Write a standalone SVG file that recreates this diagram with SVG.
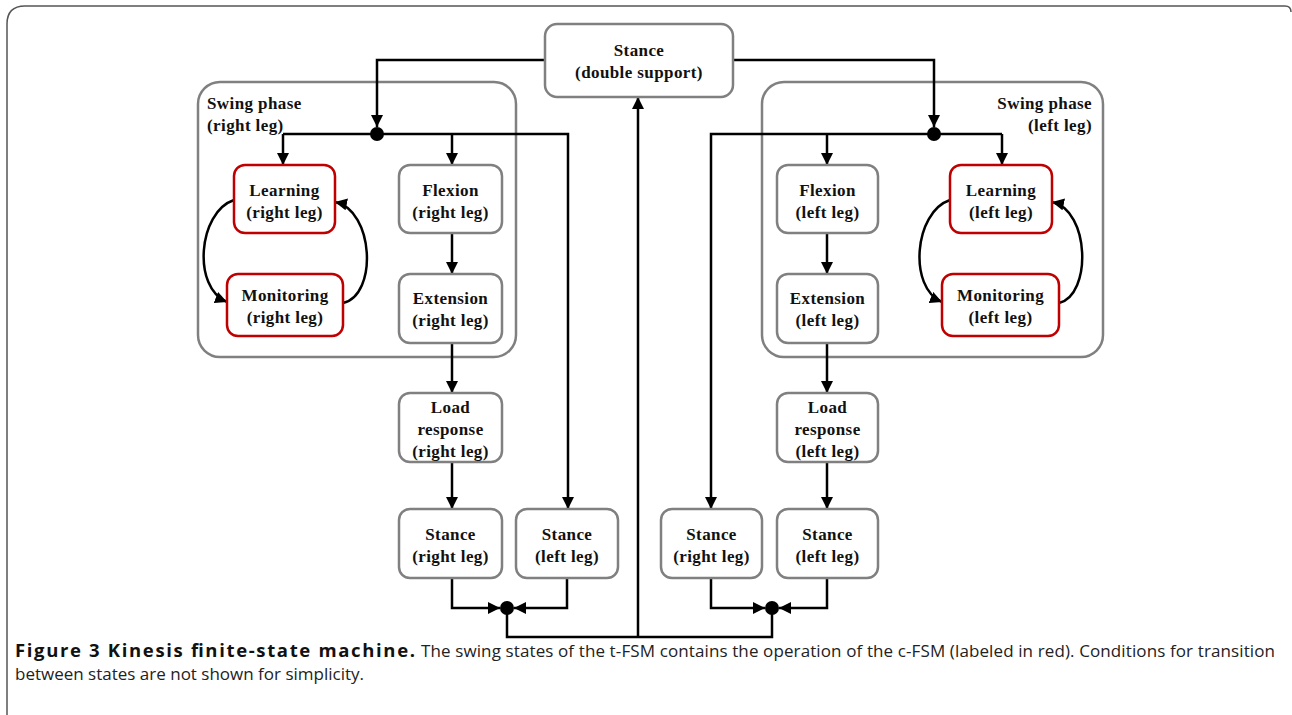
<svg xmlns="http://www.w3.org/2000/svg" width="1292" height="715" viewBox="0 0 1292 715">
<defs>
<style>
.frame{fill:none;stroke:#555;stroke-width:1.5}
.box{fill:#fff;stroke:#808080;stroke-width:2.5}
.red{fill:#fff;stroke:#c00000;stroke-width:2.5}
.group{fill:none;stroke:#808080;stroke-width:2.5}
.lbl{font-family:"Liberation Serif","Times New Roman",serif;font-weight:bold;font-size:17px;letter-spacing:0.4px;fill:#111;text-anchor:middle}
.glbl{font-family:"Liberation Serif","Times New Roman",serif;font-weight:bold;font-size:17px;letter-spacing:0.4px;fill:#111}
.cn{fill:none;stroke:#000;stroke-width:2.5}
.arr{marker-end:url(#ah)}
.dot{fill:#000}
.cap{font-family:"Open Sans","Noto Sans",sans-serif;font-size:17px;fill:#222}
.capb{font-family:"Open Sans","Noto Sans",sans-serif;font-size:18.5px;font-weight:bold;fill:#111}
</style>
<marker id="ah" markerUnits="userSpaceOnUse" markerWidth="12" markerHeight="12" refX="12" refY="6" orient="auto" viewBox="0 0 12 12">
<path d="M0,0 L12,6 L0,12 z" fill="#000"/>
</marker>
</defs>
<rect width="1292" height="715" fill="#fff"/>
<path class="frame" d="M7,715 V24 Q7,6 25,6 H1285 Q1291,6 1291,12"/>

<g id="swing-right-group">
<rect class="group" x="198" y="82" width="318" height="275" rx="22"/>
<text class="glbl" x="207" y="109">Swing phase</text>
<text class="glbl" x="207" y="131">(right leg)</text>
</g>
<g id="swing-left-group">
<rect class="group" x="762" y="82" width="341" height="275" rx="22"/>
<text class="glbl" x="1092" y="109" text-anchor="end">Swing phase</text>
<text class="glbl" x="1092" y="131" text-anchor="end">(left leg)</text>
</g>

<g id="connectors">
<path class="cn arr" d="M545,60 H377 V127"/>
<path class="cn arr" d="M283,134 V165"/>
<path class="cn arr" d="M452,134 V165"/>
<path class="cn arr" d="M283,134 H568 V509"/>
<path class="cn arr" d="M452,233 V274"/>
<path class="cn arr" d="M452,343 V393"/>
<path class="cn arr" d="M452,462 V509"/>
<path class="cn arr" d="M452,578 V608 H500"/>
<path class="cn arr" d="M567,578 V608 H514"/>
<path class="cn" d="M507,608 V637 H772 V608"/>
<path class="cn arr" d="M638,637 V97"/>
<path class="cn arr" d="M733,60 H934 V127"/>
<path class="cn arr" d="M1002,134 V165"/>
<path class="cn arr" d="M827,134 V165"/>
<path class="cn arr" d="M1002,134 H711 V509"/>
<path class="cn arr" d="M827,233 V274"/>
<path class="cn arr" d="M827,343 V393"/>
<path class="cn arr" d="M827,462 V509"/>
<path class="cn arr" d="M711,578 V608 H765"/>
<path class="cn arr" d="M827,578 V608 H779"/>
<path class="cn arr" d="M234,200 C198,212 192,288 227,302"/>
<path class="cn arr" d="M343,303 C378,295 374,210 335,202"/>
<path class="cn arr" d="M950,200 C914,212 908,288 942,302"/>
<path class="cn arr" d="M1059,303 C1092,295 1090,210 1052,202"/>
<circle class="dot" cx="377" cy="134" r="7"/>
<circle class="dot" cx="934" cy="134" r="7"/>
<circle class="dot" cx="507" cy="608" r="7"/>
<circle class="dot" cx="772" cy="608" r="7"/>
</g>

<g id="stance-double">
<rect class="box" x="545" y="24" width="188" height="73" rx="12"/>
<text class="lbl" x="639" y="56">Stance</text>
<text class="lbl" x="639" y="78">(double support)</text>
</g>

<g id="learning-right">
<rect class="red" x="234" y="165" width="101" height="68" rx="11"/>
<text class="lbl" x="284.5" y="196">Learning</text>
<text class="lbl" x="284.5" y="218">(right leg)</text>
</g>
<g id="monitoring-right">
<rect class="red" x="227" y="274" width="116" height="62" rx="11"/>
<text class="lbl" x="285" y="301">Monitoring</text>
<text class="lbl" x="285" y="323">(right leg)</text>
</g>
<g id="flexion-right">
<rect class="box" x="399" y="165" width="103" height="68" rx="11"/>
<text class="lbl" x="450.5" y="196">Flexion</text>
<text class="lbl" x="450.5" y="218">(right leg)</text>
</g>
<g id="extension-right">
<rect class="box" x="399" y="274" width="103" height="69" rx="11"/>
<text class="lbl" x="450.5" y="304">Extension</text>
<text class="lbl" x="450.5" y="326">(right leg)</text>
</g>
<g id="load-right">
<rect class="box" x="399" y="393" width="103" height="69" rx="11"/>
<text class="lbl" x="450.5" y="413">Load</text>
<text class="lbl" x="450.5" y="435">response</text>
<text class="lbl" x="450.5" y="457">(right leg)</text>
</g>
<g id="stance-right-a">
<rect class="box" x="399" y="509" width="103" height="69" rx="11"/>
<text class="lbl" x="450.5" y="540">Stance</text>
<text class="lbl" x="450.5" y="562">(right leg)</text>
</g>
<g id="stance-left-a">
<rect class="box" x="516" y="509" width="102" height="69" rx="11"/>
<text class="lbl" x="567" y="540">Stance</text>
<text class="lbl" x="567" y="562">(left leg)</text>
</g>

<g id="flexion-left">
<rect class="box" x="777" y="165" width="101" height="68" rx="11"/>
<text class="lbl" x="827.5" y="196">Flexion</text>
<text class="lbl" x="827.5" y="218">(left leg)</text>
</g>
<g id="learning-left">
<rect class="red" x="950" y="165" width="102" height="68" rx="11"/>
<text class="lbl" x="1001" y="196">Learning</text>
<text class="lbl" x="1001" y="218">(left leg)</text>
</g>
<g id="extension-left">
<rect class="box" x="777" y="274" width="101" height="69" rx="11"/>
<text class="lbl" x="827.5" y="304">Extension</text>
<text class="lbl" x="827.5" y="326">(left leg)</text>
</g>
<g id="monitoring-left">
<rect class="red" x="942" y="274" width="117" height="62" rx="11"/>
<text class="lbl" x="1000.5" y="301">Monitoring</text>
<text class="lbl" x="1000.5" y="323">(left leg)</text>
</g>
<g id="load-left">
<rect class="box" x="777" y="393" width="101" height="69" rx="11"/>
<text class="lbl" x="827.5" y="413">Load</text>
<text class="lbl" x="827.5" y="435">response</text>
<text class="lbl" x="827.5" y="457">(left leg)</text>
</g>
<g id="stance-right-b">
<rect class="box" x="661" y="509" width="101" height="69" rx="11"/>
<text class="lbl" x="711.5" y="540">Stance</text>
<text class="lbl" x="711.5" y="562">(right leg)</text>
</g>
<g id="stance-left-b">
<rect class="box" x="777" y="509" width="101" height="69" rx="11"/>
<text class="lbl" x="827.5" y="540">Stance</text>
<text class="lbl" x="827.5" y="562">(left leg)</text>
</g>

<g id="caption">
<text class="capb" x="15" y="657" textLength="400" lengthAdjust="spacing">Figure 3 Kinesis finite-state machine.</text>
<text class="cap" x="421" y="657" textLength="854" lengthAdjust="spacing">The swing states of the t-FSM contains the operation of the c-FSM (labeled in red). Conditions for transition</text>
<text class="cap" x="15" y="680">between states are not shown for simplicity.</text>
</g>
</svg>
